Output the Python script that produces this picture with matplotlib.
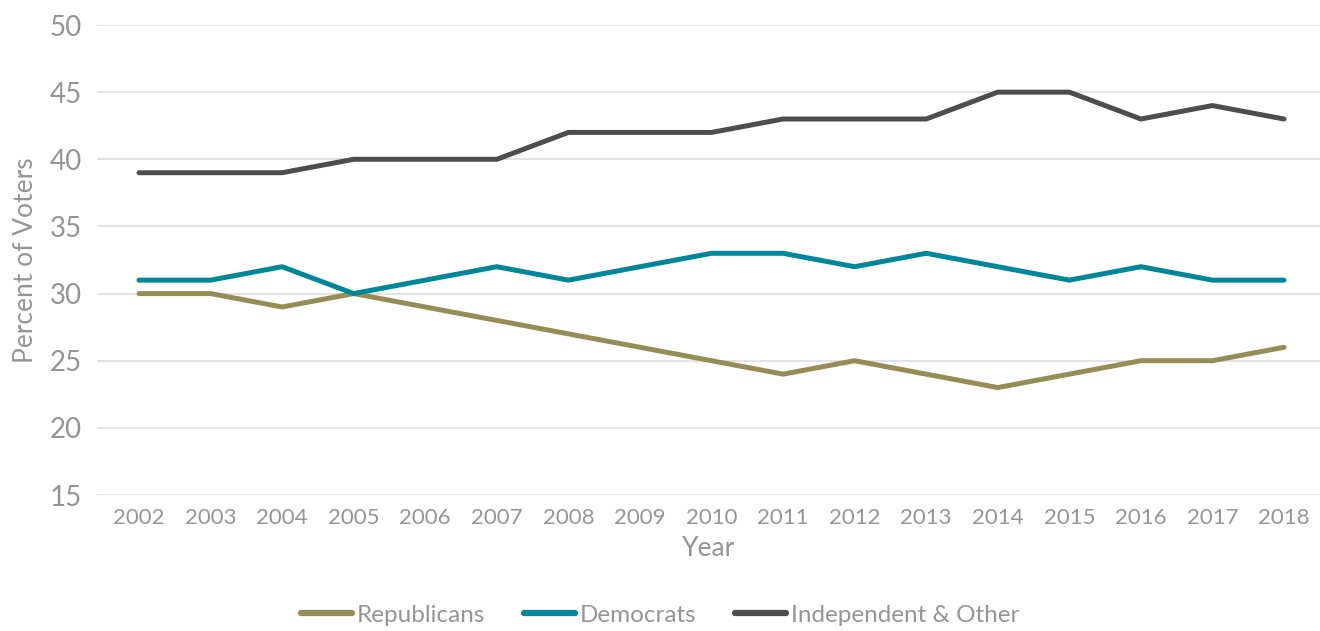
import matplotlib
matplotlib.use("Agg")
from matplotlib import pyplot as plt

years = [str(y) for y in range(2002, 2019)]
republicans = [30, 30, 29, 30, 29, 28, 27, 26, 25, 24, 25, 24, 23, 24, 25, 25, 26]
democrats = [31, 31, 32, 30, 31, 32, 31, 32, 33, 33, 32, 33, 32, 31, 32, 31, 31]
independent = [39, 39, 39, 40, 40, 40, 42, 42, 42, 43, 43, 43, 45, 45, 43, 44, 43]

plt.rcParams['font.family'] = ['Lato', 'DejaVu Sans']
grey = '#959595'

fig = plt.figure(figsize=(13.2, 6.31), dpi=100)
ax = fig.add_axes([97/1320, 1-495/631, 1-97/1320, 470/631])

x = list(range(len(years)))
style = dict(lw=3.6, solid_capstyle='round', solid_joinstyle='round')
ax.plot(x, republicans, color='#968c55', label='Republicans', **style)
ax.plot(x, democrats, color='#00879a', label='Democrats', **style)
ax.plot(x, independent, color='#4d4d4d', label='Independent & Other', **style)

ax.set_ylim(15, 50)
ax.set_yticks(range(15, 51, 5))
ax.set_xticks(x)
ax.set_xticklabels(years)
ax.set_xlim(-0.587, 16.503)
ax.yaxis.grid(True, color='#e0e0e0', lw=1.3)
ax.set_axisbelow(True)
for s in ax.spines.values():
    s.set_visible(False)
ax.tick_params(axis='both', length=0, colors=grey)
ax.tick_params(axis='y', labelsize=20, pad=11)
ax.tick_params(axis='x', labelsize=16, pad=9)
ax.set_xlabel('Year', fontsize=19, color=grey, labelpad=6)
ax.set_ylabel('Percent of Voters', fontsize=19, color=grey, labelpad=8)

leg = fig.legend(loc='center', bbox_to_anchor=(0.5, 1-615/631), ncol=3, frameon=False,
                 fontsize=17.5, handlelength=2.1, columnspacing=1.6, handletextpad=0.2)
for t in leg.get_texts():
    t.set_color(grey)
for h in leg.get_lines():
    h.set_linewidth(4.5)
    h.set_solid_capstyle('round')

fig.savefig('out.png', dpi=100)
